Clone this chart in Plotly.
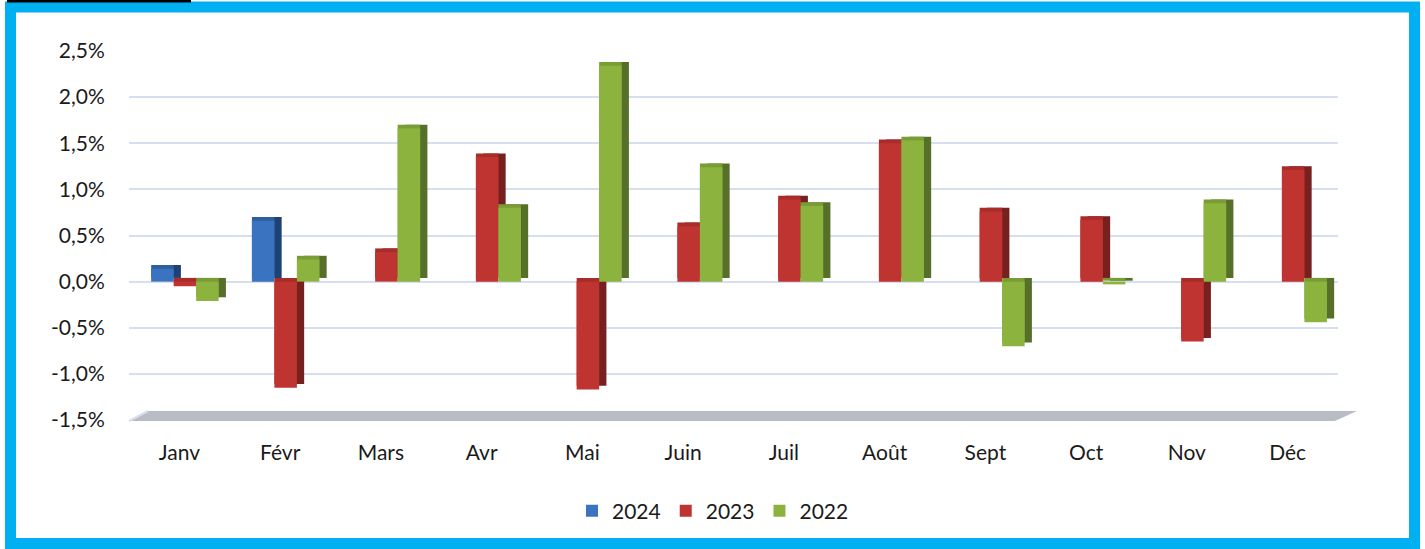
import plotly.graph_objects as go

## données (variation mensuelle en %)
mois = ["Janv", "Févr", "Mars", "Avr", "Mai", "Juin", "Juil", "Août", "Sept", "Oct", "Nov", "Déc"]
annees = ["2024", "2023", "2022"]
v2024 = [0.14, 0.66, None, None, None, None, None, None, None, None, None, None]
v2023 = [-0.05, -1.15, 0.32, 1.35, -1.17, 0.60, 0.89, 1.50, 0.76, 0.67, -0.65, 1.21]
v2022 = [-0.21, 0.24, 1.66, 0.80, 2.34, 1.24, 0.82, 1.53, -0.70, -0.03, 0.85, -0.44]
series = [v2024, v2023, v2022]
graduations = [-1.5, -1.0, -0.5, 0.0, 0.5, 1.0, 1.5, 2.0, 2.5]
etiquettes = ["-1,5%", "-1,0%", "-0,5%", "0,0%", "0,5%", "1,0%", "1,5%", "2,0%", "2,5%"]

## couleurs : face avant, dessus, côté
face = ["#3A73BF", "#BF3330", "#8DB33F"]
dessus = ["#2F5E9E", "#A82C2A", "#7A9C35"]
cote = ["#1F4275", "#772020", "#56702A"]

## géométrie (pixels de la page 1425x549)
W, H = 1425, 549
L, R, T, B = 129, 1338, 51, 420
larg = 0.2233      # largeur d'une barre (unités catégorie)
dep = -0.28        # début du groupe
dx, dy = 0.072, 0.04   # profondeur du faux 3D

def px(x):
    return (x - L) / (R - L)

def py(y):
    return (B - y) / (B - T)

fig = go.Figure()

## faces de côté et de dessus d'abord, puis la face avant
for i, (nom, vals) in enumerate(zip(annees, series)):
    off = dep + i * larg
    fig.add_trace(go.Bar(x=mois, y=vals, base=dy, offset=off + dx, width=larg,
                         marker=dict(color=cote[i], line=dict(width=0)),
                         showlegend=False, hoverinfo="skip"))
    fig.add_trace(go.Bar(x=mois, y=vals, base=dy, offset=off, width=larg,
                         marker=dict(color=dessus[i], line=dict(width=0)),
                         showlegend=False, hoverinfo="skip"))
    fig.add_trace(go.Bar(x=mois, y=vals, name=nom, offset=off, width=larg,
                         marker=dict(color=face[i], line=dict(width=0))))

grille = "#D5DFEF"

fig.update_layout(
    width=W, height=H, autosize=False,
    margin=dict(l=L, r=W - R, t=T, b=H - B),
    barmode="overlay",
    plot_bgcolor="white", paper_bgcolor="white",
    font=dict(family="Lato", size=21, color="#1A1A1A"),
    showlegend=True,
    legend=dict(orientation="h", x=px(713), y=py(511), xanchor="center", yanchor="middle",
                font=dict(size=21), traceorder="normal", itemwidth=30),
    xaxis=dict(range=[-0.5, 11.5], showgrid=False, showline=False, zeroline=False,
               ticks="outside", ticklen=14, tickcolor="rgba(0,0,0,0)"),
    yaxis=dict(range=[-1.5, 2.5], tickvals=graduations, ticktext=etiquettes,
               showgrid=True, gridcolor=grille, gridwidth=2,
               zeroline=True, zerolinecolor=grille, zerolinewidth=2,
               showline=False, ticks="outside", ticklen=19, tickcolor="rgba(0,0,0,0)"),
)

## sol gris sous le graphique
fig.add_shape(type="path", xref="paper", yref="paper", layer="below",
              path=f"M {px(129)},{py(421)} L {px(1335)},{py(421)} L {px(1357)},{py(411)} L {px(148)},{py(411)} Z",
              fillcolor="#B9BDC3", line=dict(width=0))
fig.add_shape(type="path", xref="paper", yref="paper", layer="below",
              path=f"M {px(129)},{py(421)} L {px(148)},{py(411)}",
              line=dict(color=grille, width=2))

## cadre bleu et trait noir en haut
fig.add_shape(type="rect", xref="paper", yref="paper",
              x0=px(10.5), x1=px(1414.5), y0=py(543.5), y1=py(7),
              line=dict(color="#00B0F0", width=11), fillcolor="rgba(0,0,0,0)")
fig.add_shape(type="line", xref="paper", yref="paper",
              x0=px(7), x1=px(191), y0=py(1), y1=py(1),
              line=dict(color="black", width=3))

## pas de marge de page ni de barre d'outils
fig.write_html("out.html", config={"displayModeBar": False},
               post_script="document.body.style.margin='0';")
